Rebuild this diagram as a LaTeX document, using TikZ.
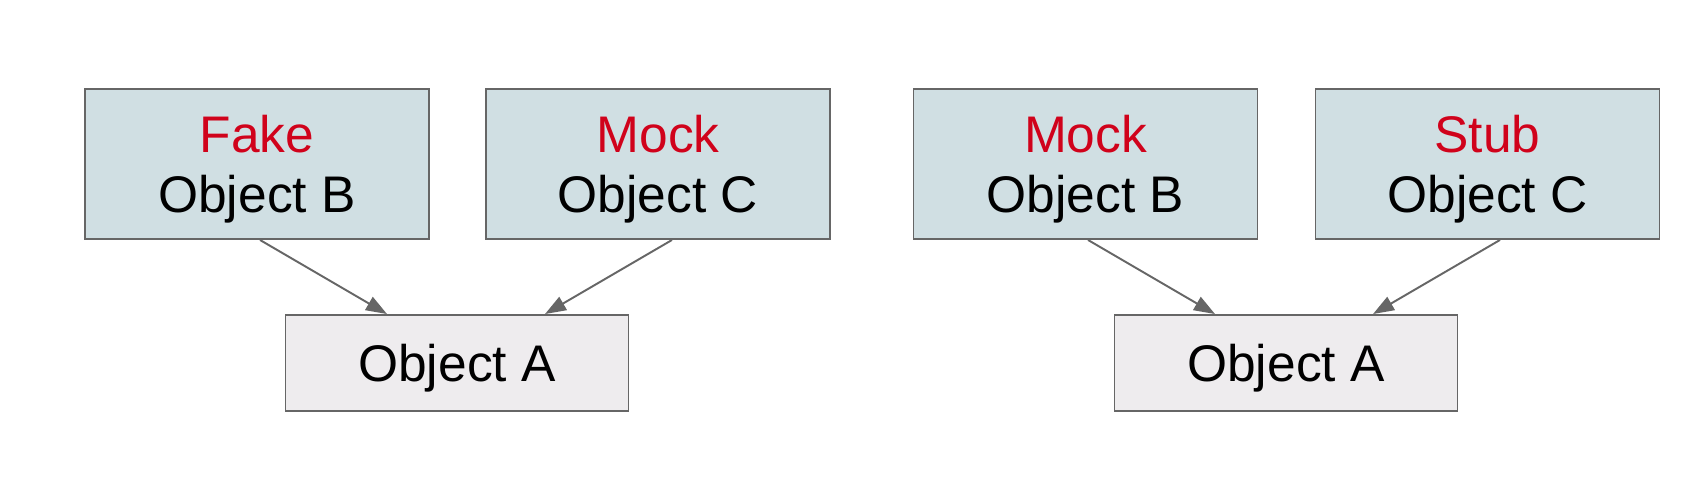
\documentclass[tikz,border=0pt]{standalone}
\usepackage{fontspec}
\setmainfont{Liberation Sans}
\usepackage{xcolor}
\usepackage{tikz}
\usetikzlibrary{arrows.meta}
\definecolor{dblfill}{HTML}{D0DFE3}
\definecolor{objfill}{HTML}{EEECEE}
\definecolor{edge}{HTML}{666666}
\definecolor{kind}{HTML}{D0021B}

\begin{document}
\begin{tikzpicture}[
        double/.style={
            rectangle,
            draw=edge,
            line width=1.1pt,
            fill=dblfill,
            text=black,
            align=center,
            font=\fontsize{29.3}{34.5}\selectfont,
            text depth=0pt,
            minimum width=6.88cm,
            minimum height=3cm
        },
        object/.style={
            double,
            fill=objfill,
            minimum width=6.86cm,
            minimum height=1.92cm
        },
        arrow/.style={
            -{Triangle[length=0.42cm,width=0.3cm]},
            line width=1.1pt,
            color=edge
        }
    ]
        \useasboundingbox (0,0) rectangle (33.88,9.8);

        % Fake / Mock side
        \node[double] (fb) at (5.14, 6.52) {\textcolor{kind}{Fake}\\Object B};
        \node[double] (mc) at (13.16, 6.52) {\textcolor{kind}{Mock}\\Object C};
        \node[object] (la) at (9.14, 2.54) {Object A};

        % Mock / Stub side
        \node[double] (mb) at (21.71, 6.52) {\textcolor{kind}{Mock}\\Object B};
        \node[double] (sc) at (29.75, 6.52) {\textcolor{kind}{Stub}\\Object C};
        \node[object] (ra) at (25.72, 2.54) {Object A};

        % Arrows
        \draw[arrow] ([xshift=0.06cm]fb.south) -- ([xshift=-1.4cm]la.north);
        \draw[arrow] ([xshift=0.28cm]mc.south) -- ([xshift=1.76cm]la.north);
        \draw[arrow] ([xshift=0.05cm]mb.south) -- ([xshift=-1.42cm]ra.north);
        \draw[arrow] ([xshift=0.25cm]sc.south) -- ([xshift=1.74cm]ra.north);
    \end{tikzpicture}
\end{document}
